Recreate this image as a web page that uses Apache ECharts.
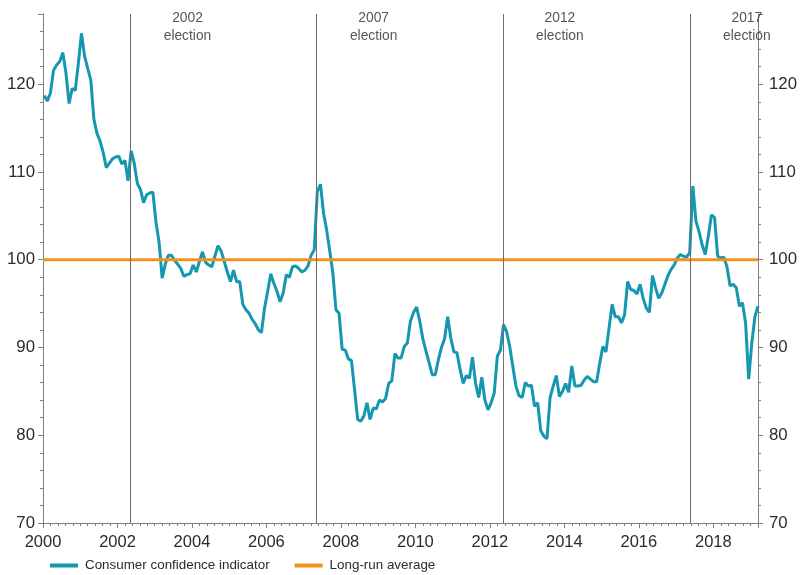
<!DOCTYPE html>
<html>
<head>
<meta charset="utf-8">
<script src="https://cdn.jsdelivr.net/npm/echarts@6/dist/echarts.min.js"></script>
<style>
html,body{margin:0;padding:0;background:#fff;}
#chart{width:800px;height:575px;}
</style>
</head>
<body>
<div id="chart"></div>
<script>
// ---- data ----
const startYear = 2000; // first observation: January 2000, monthly
const confidence = [
  118.7, 118.1, 119.0, 121.6, 122.2, 122.6, 123.6, 121.3, 117.8, 119.5, 119.3, 122.4,
  125.8, 123.2, 121.8, 120.5, 116.0, 114.4, 113.5, 112.2, 110.5, 111.0, 111.5, 111.7,
  111.8, 110.9, 111.3, 109.0, 112.4, 111.0, 108.7, 108.0, 106.5, 107.4, 107.6, 107.7,
  104.3, 102.0, 97.9, 99.5, 100.5, 100.5, 99.9, 99.5, 99.0, 98.1, 98.3, 98.4,
  99.4, 98.6, 99.8, 100.9, 99.7, 99.4, 99.2, 100.4, 101.6, 101.0, 99.8, 98.6,
  97.5, 98.8, 97.5, 97.5, 94.9, 94.3, 93.9, 93.2, 92.7, 92.0, 91.7, 94.5,
  96.4, 98.4, 97.3, 96.4, 95.2, 96.2, 98.3, 98.0, 99.2, 99.3, 99.0, 98.6,
  98.8, 99.3, 100.5, 101.1, 107.8, 108.6, 105.3, 103.4, 101.0, 98.5, 94.3, 93.9,
  89.8, 89.7, 88.7, 88.5, 85.2, 81.8, 81.6, 82.2, 83.7, 81.8, 83.1, 83.0,
  84.0, 83.8, 84.2, 85.9, 86.2, 89.3, 88.8, 88.8, 90.1, 90.5, 93.0, 94.0,
  94.6, 93.0, 91.0, 89.6, 88.3, 86.9, 86.9, 88.6, 90.0, 91.0, 93.5, 91.1,
  89.5, 89.4, 87.5, 85.9, 86.8, 86.5, 88.9, 85.9, 84.3, 86.6, 84.0, 82.9,
  83.7, 84.8, 89.0, 89.7, 92.6, 91.8, 90.1, 87.8, 85.6, 84.5, 84.3, 86.0,
  85.6, 85.7, 83.3, 83.7, 80.5, 79.9, 79.6, 84.3, 85.6, 86.8, 84.4, 85.0,
  85.9, 84.9, 87.9, 85.6, 85.6, 85.7, 86.3, 86.7, 86.4, 86.1, 86.1, 88.2,
  90.1, 89.5, 92.2, 94.9, 93.5, 93.5, 92.8, 93.7, 97.5, 96.6, 96.5, 96.1,
  97.2, 95.6, 94.5, 94.0, 98.2, 96.8, 95.6, 96.2, 97.2, 98.2, 98.9, 99.4,
  100.2, 100.6, 100.4, 100.3, 100.8, 108.4, 104.4, 103.2, 101.7, 100.6, 102.7, 105.1,
  104.8, 100.4, 100.2, 100.3, 99.2, 97.0, 97.2, 96.8, 94.7, 95.1, 92.8, 86.4,
  90.5, 93.5, 94.7
];
const longRunAverage = 100;
const electionDates = [2002.35, 2007.35, 2012.35, 2017.37];
const electionLabels = ['2002\nelection', '2007\nelection', '2012\nelection', '2017\nelection'];
const xTickLabels = [2000, 2002, 2004, 2006, 2008, 2010, 2012, 2014, 2016, 2018];
const yTickLabels = [70, 80, 90, 100, 110, 120];
const seriesNames = ['Consumer confidence indicator', 'Long-run average'];

// ---- build ----
const xMin = 2000, xMax = 2019.2, yMin = 70, yMax = 128;
const confData = confidence.map((v, k) => [startYear + (k + 0.4) / 12, v]);
const avgData = [[xMin, longRunAverage], [xMax, longRunAverage]];
const labelData = electionDates.map((d, i) => ({ value: [d + 1.53, 126.5], name: electionLabels[i] }));

const FONT = "'Liberation Sans', Arial, sans-serif";
const TXT = '#2b2b2b';
const AXIS = '#7f7f7f';

const chart = echarts.init(document.getElementById('chart'), null, { renderer: 'canvas' });
const yAxisCommon = {
  type: 'value', min: yMin, max: yMax, interval: 10,
  axisLine: { show: true, lineStyle: { color: AXIS, width: 1 } },
  axisTick: { show: true, length: 5, lineStyle: { color: AXIS } },
  minorTick: { show: true, splitNumber: 5, length: 3, lineStyle: { color: AXIS } },
  splitLine: { show: false },
  axisLabel: {
    fontFamily: FONT, fontSize: 16.8, color: TXT, margin: 8,
    formatter: v => (yTickLabels.indexOf(v) >= 0 ? String(v) : '')
  }
};
chart.setOption({
  animation: false,
  backgroundColor: '#ffffff',
  grid: { left: 43, right: 41, top: 14, bottom: 52, containLabel: false },
  legend: {
    left: 45, top: 554, itemWidth: 28, itemHeight: 4, itemGap: 25,
    textStyle: { fontFamily: FONT, fontSize: 13.4, color: TXT, padding: [0, 0, 0, 2] },
    data: [{ name: seriesNames[0], icon: 'rect' }, { name: seriesNames[1], icon: 'rect' }]
  },
  xAxis: {
    type: 'value', min: xMin, max: xMax, interval: 2,
    axisLine: { show: true, onZero: false, lineStyle: { color: AXIS, width: 1 } },
    axisTick: { show: true, length: 5, lineStyle: { color: AXIS } },
    minorTick: { show: true, splitNumber: 10, length: 3, lineStyle: { color: AXIS } },
    splitLine: { show: false },
    axisLabel: {
      fontFamily: FONT, fontSize: 16.5, color: TXT, margin: 11,
      formatter: v => (xTickLabels.indexOf(v) >= 0 ? String(v) : '')
    }
  },
  yAxis: [
    Object.assign({ position: 'left' }, yAxisCommon),
    Object.assign({ position: 'right' }, yAxisCommon, { axisLabel: Object.assign({}, yAxisCommon.axisLabel, { margin: 11 }) })
  ],
  series: [
    {
      name: 'elections', type: 'scatter', data: labelData, symbolSize: 1, z: 1,
      itemStyle: { color: 'rgba(0,0,0,0)' },
      label: {
        show: true, position: 'inside', formatter: '{b}',
        fontFamily: FONT, fontSize: 13.8, lineHeight: 18, color: TXT, align: 'center'
      },
      silent: true,
      markLine: {
        silent: true, symbol: ['none', 'none'], animation: false,
        label: { show: false },
        lineStyle: { color: '#6e6e6e', width: 1, type: 'solid' },
        data: electionDates.map(d => ({ xAxis: d }))
      }
    },
    {
      name: seriesNames[0], type: 'line', data: confData, symbol: 'none', z: 3,
      lineStyle: { color: '#1597b1', width: 3 }, itemStyle: { color: '#1597b1' }
    },
    {
      name: seriesNames[1], type: 'line', data: avgData, symbol: 'none', z: 4,
      lineStyle: { color: '#f0921e', width: 3 }, itemStyle: { color: '#f0921e' }
    }
  ]
});
</script>
</body>
</html>
